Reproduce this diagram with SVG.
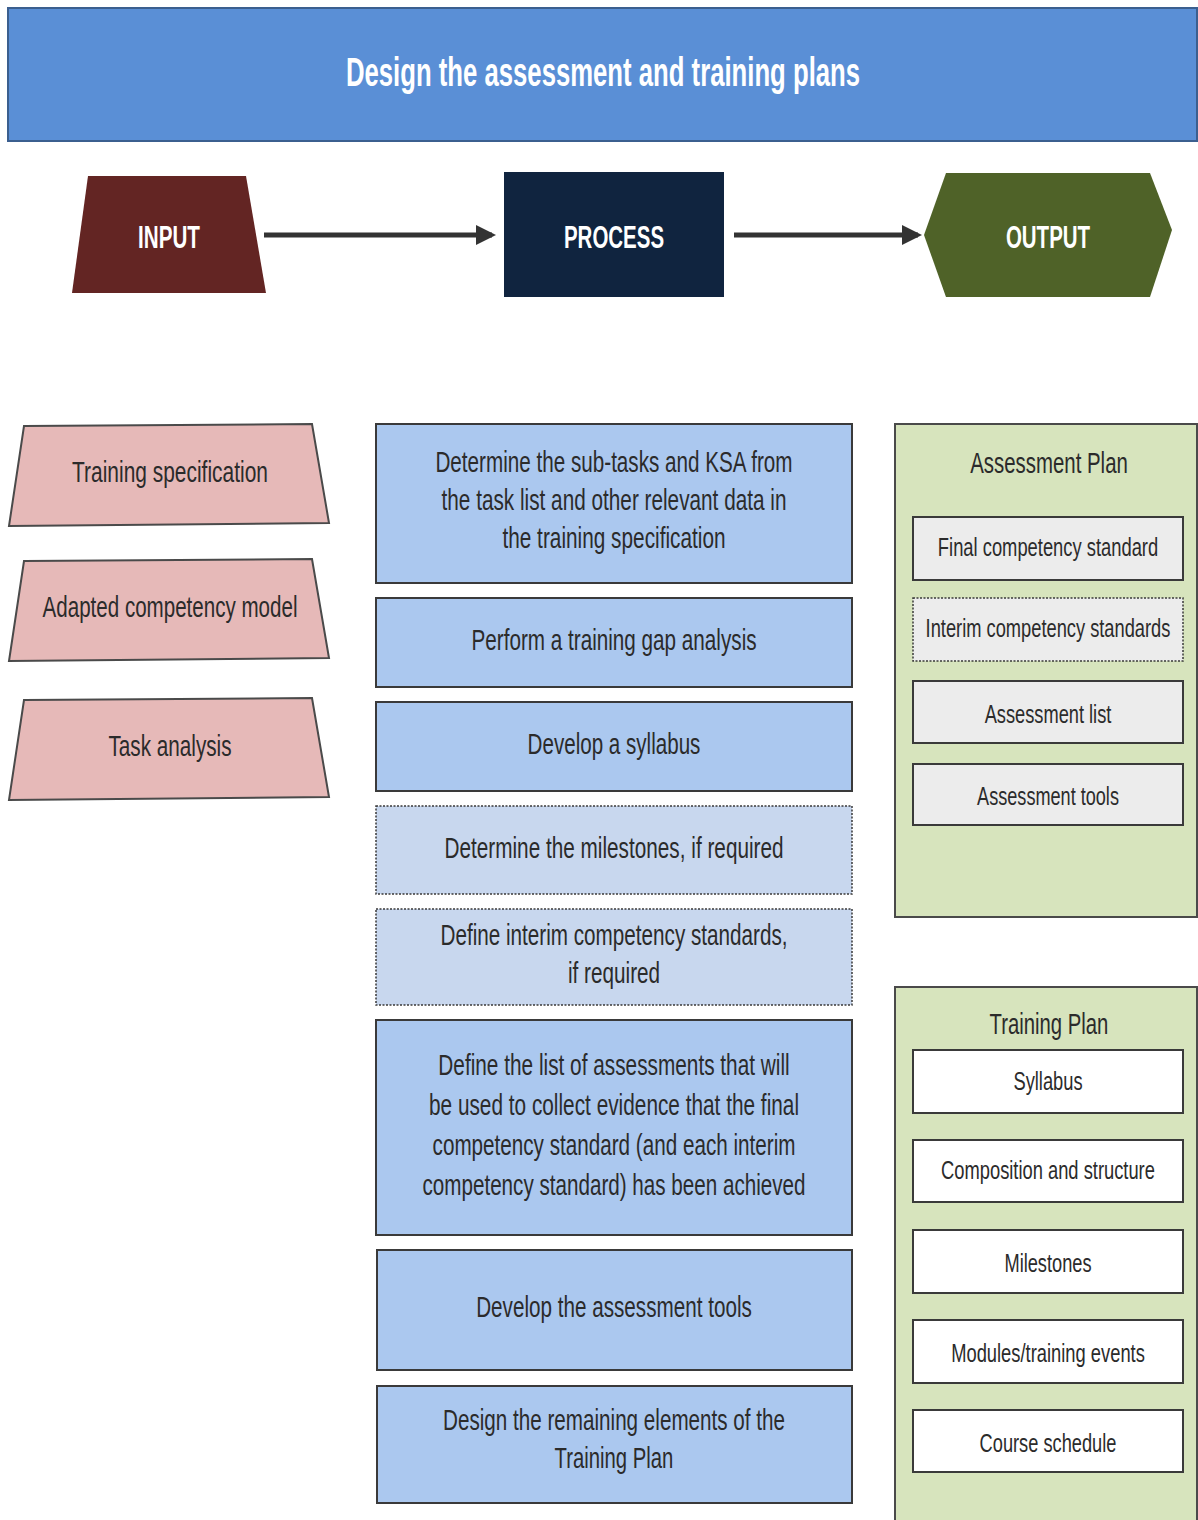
<svg xmlns="http://www.w3.org/2000/svg" width="1198" height="1520" viewBox="0 0 1198 1520">
<defs>
<style>
text{font-family:"Liberation Sans",Arial,sans-serif;text-anchor:middle;dominant-baseline:central;fill:#2b2b2b}
.hd{fill:#fff;font-weight:bold}
.inp{fill:#e6b9b8;stroke:#4a4a4a;stroke-width:2}
.proc{fill:#abc8ef;stroke:#3a3a3a;stroke-width:2}
.procd{fill:#c8d7ee;stroke:#3a3a3a;stroke-width:1.5;stroke-dasharray:2 1.5}
.cont{fill:#d7e4bd;stroke:#4a4a4a;stroke-width:2}
.ai{fill:#ececec;stroke:#3a3a3a;stroke-width:2}
.aid{fill:#ececec;stroke:#3a3a3a;stroke-width:1.5;stroke-dasharray:2 1.5}
.ti{fill:#ffffff;stroke:#3a3a3a;stroke-width:2}
.t30{font-size:30px}
.t26{font-size:26px}
</style>
<marker id="ah" markerWidth="4" markerHeight="4" refX="3.2" refY="2" orient="auto" markerUnits="strokeWidth">
<path d="M0,0 L4,2 L0,4 Z" fill="#333"/>
</marker>
</defs>
<rect width="1198" height="1520" fill="#ffffff"/>

<g id="header">
<rect x="8" y="8" width="1189" height="133" fill="#5a8fd6" stroke="#3b5f8f" stroke-width="2"/>
<text transform="translate(603,72) scale(0.72,1)" class="hd" font-size="40" textLength="714" lengthAdjust="spacingAndGlyphs">Design the assessment and training plans</text>
</g>

<g id="input-head">
<polygon points="88,176 246,176 266,293 72,293" fill="#632523"/>
<text transform="translate(169,237) scale(0.72,1)" class="hd" font-size="32" textLength="86" lengthAdjust="spacingAndGlyphs">INPUT</text>
</g>
<g id="process-head">
<rect x="504" y="172" width="220" height="125" fill="#10243f"/>
<text transform="translate(614,237) scale(0.72,1)" class="hd" font-size="32" textLength="139" lengthAdjust="spacingAndGlyphs">PROCESS</text>
</g>
<g id="output-head">
<polygon points="924,235 946,173 1150,173 1172,230 1150,297 946,297" fill="#4f6228"/>
<text transform="translate(1048,237) scale(0.72,1)" class="hd" font-size="32" textLength="117" lengthAdjust="spacingAndGlyphs">OUTPUT</text>
</g>

<g id="connectors">
<line x1="264" y1="235" x2="492" y2="235" stroke="#333" stroke-width="5" marker-end="url(#ah)"/>
<line x1="734" y1="235" x2="918" y2="235" stroke="#333" stroke-width="5" marker-end="url(#ah)"/>
</g>

<g id="in1">
<polygon class="inp" points="24,426 312,424 329,523 9,526"/>
<text transform="translate(170,472) scale(0.72,1)" class="t30" textLength="272" lengthAdjust="spacingAndGlyphs">Training specification</text>
</g>
<g id="in2">
<polygon class="inp" points="24,561 312,559 329,658 9,661"/>
<text transform="translate(170,607) scale(0.72,1)" class="t30" textLength="354" lengthAdjust="spacingAndGlyphs">Adapted competency model</text>
</g>
<g id="in3">
<polygon class="inp" points="24,700 312,698 329,797 9,800"/>
<text transform="translate(170,746) scale(0.72,1)" class="t30" textLength="171" lengthAdjust="spacingAndGlyphs">Task analysis</text>
</g>

<g id="p1">
<rect class="proc" x="376" y="424" width="476" height="159"/>
<text transform="translate(614,462) scale(0.72,1)" class="t30" textLength="496" lengthAdjust="spacingAndGlyphs">Determine the sub-tasks and KSA from</text>
<text transform="translate(614,500) scale(0.72,1)" class="t30" textLength="479" lengthAdjust="spacingAndGlyphs">the task list and other relevant data in</text>
<text transform="translate(614,538) scale(0.72,1)" class="t30" textLength="310" lengthAdjust="spacingAndGlyphs">the training specification</text>
</g>
<g id="p2">
<rect class="proc" x="376" y="598" width="476" height="89"/>
<text transform="translate(614,640) scale(0.72,1)" class="t30" textLength="396" lengthAdjust="spacingAndGlyphs">Perform a training gap analysis</text>
</g>
<g id="p3">
<rect class="proc" x="376" y="702" width="476" height="89"/>
<text transform="translate(614,744) scale(0.72,1)" class="t30" textLength="240" lengthAdjust="spacingAndGlyphs">Develop a syllabus</text>
</g>
<g id="p4">
<rect class="procd" x="376" y="806" width="476" height="88"/>
<text transform="translate(614,848) scale(0.72,1)" class="t30" textLength="471" lengthAdjust="spacingAndGlyphs">Determine the milestones, if required</text>
</g>
<g id="p5">
<rect class="procd" x="376" y="909" width="476" height="96"/>
<text transform="translate(614,935) scale(0.72,1)" class="t30" textLength="482" lengthAdjust="spacingAndGlyphs">Define interim competency standards,</text>
<text transform="translate(614,973) scale(0.72,1)" class="t30" textLength="128" lengthAdjust="spacingAndGlyphs">if required</text>
</g>
<g id="p6">
<rect class="proc" x="376" y="1020" width="476" height="215"/>
<text transform="translate(614,1065) scale(0.72,1)" class="t30" textLength="488" lengthAdjust="spacingAndGlyphs">Define the list of assessments that will</text>
<text transform="translate(614,1105) scale(0.72,1)" class="t30" textLength="514" lengthAdjust="spacingAndGlyphs">be used to collect evidence that the final</text>
<text transform="translate(614,1145) scale(0.72,1)" class="t30" textLength="504" lengthAdjust="spacingAndGlyphs">competency standard (and each interim</text>
<text transform="translate(614,1185) scale(0.72,1)" class="t30" textLength="532" lengthAdjust="spacingAndGlyphs">competency standard) has been achieved</text>
</g>
<g id="p7">
<rect class="proc" x="377" y="1250" width="475" height="120"/>
<text transform="translate(614,1307) scale(0.72,1)" class="t30" textLength="383" lengthAdjust="spacingAndGlyphs">Develop the assessment tools</text>
</g>
<g id="p8">
<rect class="proc" x="377" y="1386" width="475" height="117"/>
<text transform="translate(614,1420) scale(0.72,1)" class="t30" textLength="475" lengthAdjust="spacingAndGlyphs">Design the remaining elements of the</text>
<text transform="translate(614,1458) scale(0.72,1)" class="t30" textLength="165" lengthAdjust="spacingAndGlyphs">Training Plan</text>
</g>

<g id="assessment-plan">
<rect class="cont" x="895" y="424" width="302" height="493"/>
<text transform="translate(1049,463) scale(0.72,1)" class="t30" textLength="219" lengthAdjust="spacingAndGlyphs">Assessment Plan</text>
</g>
<g id="a1">
<rect class="ai" x="913" y="517" width="270" height="63"/>
<text transform="translate(1048,547) scale(0.72,1)" class="t26" textLength="306" lengthAdjust="spacingAndGlyphs">Final competency standard</text>
</g>
<g id="a2">
<rect class="aid" x="913" y="598" width="270" height="63"/>
<text transform="translate(1048,628) scale(0.72,1)" class="t26" textLength="340" lengthAdjust="spacingAndGlyphs">Interim competency standards</text>
</g>
<g id="a3">
<rect class="ai" x="913" y="681" width="270" height="62"/>
<text transform="translate(1048,714) scale(0.72,1)" class="t26" textLength="176" lengthAdjust="spacingAndGlyphs">Assessment list</text>
</g>
<g id="a4">
<rect class="ai" x="913" y="764" width="270" height="61"/>
<text transform="translate(1048,796) scale(0.72,1)" class="t26" textLength="197" lengthAdjust="spacingAndGlyphs">Assessment tools</text>
</g>

<g id="training-plan">
<rect class="cont" x="895" y="987" width="302" height="540"/>
<text transform="translate(1049,1024) scale(0.72,1)" class="t30" textLength="165" lengthAdjust="spacingAndGlyphs">Training Plan</text>
</g>
<g id="t1">
<rect class="ti" x="913" y="1050" width="270" height="63"/>
<text transform="translate(1048,1081) scale(0.72,1)" class="t26" textLength="96" lengthAdjust="spacingAndGlyphs">Syllabus</text>
</g>
<g id="t2">
<rect class="ti" x="913" y="1140" width="270" height="62"/>
<text transform="translate(1048,1170) scale(0.72,1)" class="t26" textLength="297" lengthAdjust="spacingAndGlyphs">Composition and structure</text>
</g>
<g id="t3">
<rect class="ti" x="913" y="1230" width="270" height="63"/>
<text transform="translate(1048,1263) scale(0.72,1)" class="t26" textLength="121" lengthAdjust="spacingAndGlyphs">Milestones</text>
</g>
<g id="t4">
<rect class="ti" x="913" y="1320" width="270" height="63"/>
<text transform="translate(1048,1353) scale(0.72,1)" class="t26" textLength="269" lengthAdjust="spacingAndGlyphs">Modules/training events</text>
</g>
<g id="t5">
<rect class="ti" x="913" y="1410" width="270" height="62"/>
<text transform="translate(1048,1443) scale(0.72,1)" class="t26" textLength="190" lengthAdjust="spacingAndGlyphs">Course schedule</text>
</g>
</svg>
